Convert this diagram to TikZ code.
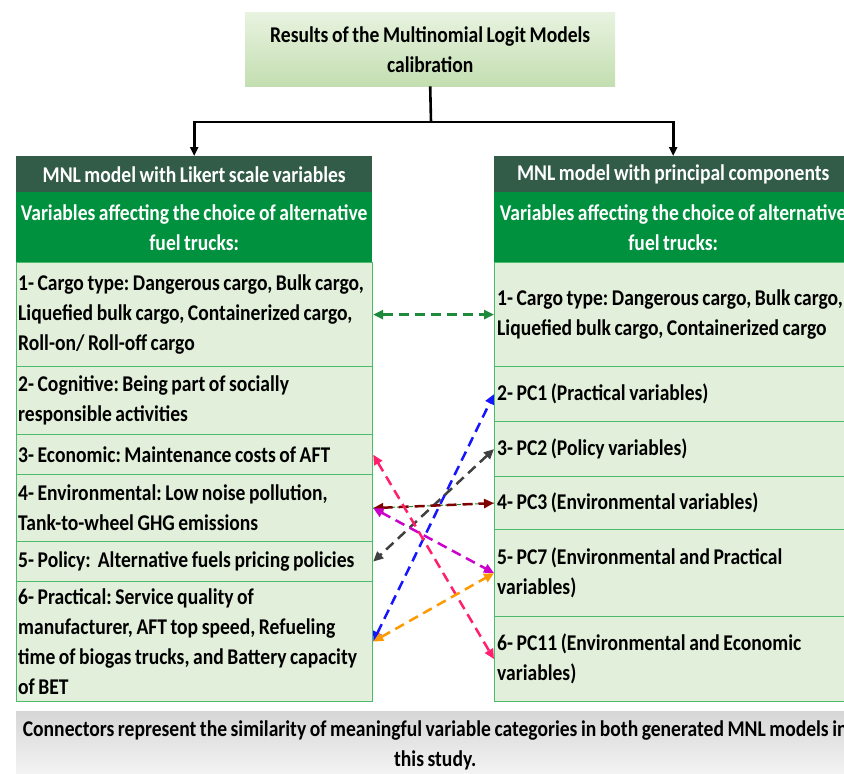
\documentclass[tikz,border=0pt]{standalone}
\usepackage{fontspec}
\setmainfont{Carlito}[FakeStretch=0.87, WordSpace=0.8]
\usetikzlibrary{arrows.meta,calc}
\definecolor{rowfill}{HTML}{E2EFDA}
\definecolor{rowline}{HTML}{4CBB6C}
\definecolor{darkhead}{HTML}{325C47}
\definecolor{greenhead}{HTML}{00913F}
\definecolor{topA}{HTML}{E8F3E0}
\definecolor{topB}{HTML}{C3DEB0}
\definecolor{capA}{HTML}{D6D6D6}
\definecolor{capB}{HTML}{F6F6F6}
\definecolor{cgreen}{HTML}{1E8A3C}
\definecolor{cblue}{HTML}{1515FF}
\definecolor{cgray}{HTML}{404040}
\definecolor{cred}{HTML}{800000}
\definecolor{cmag}{HTML}{CC00CC}
\definecolor{cpink}{HTML}{FF1F6E}
\definecolor{corange}{HTML}{FF9900}
\tikzset{
  txt/.style={font=\fontsize{22.5}{30}\selectfont\bfseries},
  rowbox/.style={draw=rowline, line width=1.2pt, fill=rowfill, anchor=north west,
    inner sep=0pt},
  lrow/.style={rowbox, minimum width=356pt},
  rrow/.style={rowbox, minimum width=358pt},
  rowtext/.style={txt, anchor=west, align=left, inner sep=0pt, text=black},
  dhead/.style={txt, fill=darkhead, text=white, anchor=north west, align=center,
    inner sep=0pt, minimum height=36pt},
  ghead/.style={txt, fill=greenhead, text=white, anchor=north west, align=center,
    inner sep=0pt, minimum height=70pt},
  blk/.style={line width=2.6pt, draw=black},
  blkarrow/.style={blk, -{Triangle[length=9pt,width=8pt]}},
  conn/.style={line width=2.5pt, dash pattern=on 10pt off 6pt,
    {Triangle[length=10pt,width=9pt]}-{Triangle[length=10pt,width=9pt]}},
}
\begin{document}
\frenchspacing
\begin{tikzpicture}[x=1pt,y=-1pt]
\path[use as bounding box, clip] (0,0) rectangle (844,774);
\fill[white] (0,0) rectangle (844,774);

% top box
\node[txt, top color=topA, bottom color=topB, minimum width=370pt, minimum height=74pt,
  align=center, inner sep=0pt, anchor=north west] (top) at (245,12)
  {Results of the Multinomial Logit Models\\calibration};

% left column
\node[dhead, minimum width=356pt] (LH) at (16,156) {MNL model with Likert scale variables};
\node[ghead, minimum width=356pt] (LG) at (16,192) {Variables affecting the choice of alternative\\fuel trucks:};
\node[lrow, minimum height=104pt] (L1) at (16,262) {};
\node[lrow, minimum height=68pt] (L2) at (16,366) {};
\node[lrow, minimum height=40pt] (L3) at (16,434) {};
\node[lrow, minimum height=67pt] (L4) at (16,474) {};
\node[lrow, minimum height=40pt] (L5) at (16,541) {};
\node[lrow, minimum height=120pt] (L6) at (16,581) {};
\node[rowtext] (L1t) at ([xshift=2pt]L1.west) {1- Cargo type: Dangerous cargo, Bulk cargo,\\Liquefied bulk cargo, Containerized cargo,\\Roll-on/ Roll-off cargo};
\node[rowtext] (L2t) at ([xshift=2pt]L2.west) {2- Cognitive: Being part of socially\\responsible activities};
\node[rowtext] (L3t) at ([xshift=2pt]L3.west) {3- Economic: Maintenance costs of AFT};
\node[rowtext] (L4t) at ([xshift=2pt]L4.west) {4- Environmental: Low noise pollution,\\Tank-to-wheel GHG emissions};
\node[rowtext] (L5t) at ([xshift=2pt]L5.west) {5- Policy:\ \ Alternative fuels pricing policies};
\node[rowtext] (L6t) at ([xshift=2pt]L6.west) {6- Practical: Service quality of\\manufacturer, AFT top speed, Refueling\\time of biogas trucks, and Battery capacity\\of BET};

% right column
\node[dhead, minimum width=358pt] (RH) at (494,156) {MNL model with principal components};
\node[ghead, minimum width=358pt] (RG) at (494,192) {Variables affecting the choice of alternative\\fuel trucks:};
\node[rrow, minimum height=104pt] (R1) at (494,262) {};
\node[rrow, minimum height=55pt] (R2) at (494,366) {};
\node[rrow, minimum height=55pt] (R3) at (494,421) {};
\node[rrow, minimum height=53pt] (R4) at (494,476) {};
\node[rrow, minimum height=87pt] (R5) at (494,529) {};
\node[rrow, minimum height=85pt] (R6) at (494,616) {};
\node[rowtext] (R1t) at ([xshift=3pt]R1.west) {1- Cargo type: Dangerous cargo, Bulk cargo,\\Liquefied bulk cargo, Containerized cargo};
\node[rowtext] (R2t) at ([xshift=3pt]R2.west) {2- PC1 (Practical variables)};
\node[rowtext] (R3t) at ([xshift=3pt]R3.west) {3- PC2 (Policy variables)};
\node[rowtext] (R4t) at ([xshift=3pt]R4.west) {4- PC3 (Environmental variables)};
\node[rowtext] (R5t) at ([xshift=3pt]R5.west) {5- PC7 (Environmental and Practical\\variables)};
\node[rowtext] (R6t) at ([xshift=3pt]R6.west) {6- PC11 (Environmental and Economic\\variables)};

% caption
\node[txt, top color=capA, bottom color=capB, minimum width=838pt, minimum height=68pt,
  align=center, inner sep=0pt, anchor=north west] (cap) at (16,711)
  {Connectors represent the similarity of meaningful variable categories in both generated MNL models in\\this study.};

% black tree connectors
\coordinate (j) at (431,122);
\draw[blk] (top.south) -- (j);
\draw[blkarrow] (j) -| (LH.north);
\draw[blkarrow] (j) -| (RH.north);

% dashed similarity connectors
\draw[conn, cgreen] (L1.east) -- (R1.west);
\draw[conn, cblue] (L6.east) -- (R2.west);
\draw[conn, cgray] (R3.west) -- (L5.east);
\draw[line width=1pt, cgreen, dash pattern=on 4pt off 2pt] (L4.east) -- (R4.west);
\draw[conn, cred] (L4.east) -- (R4.west);
\draw[conn, cmag] (L4.east) -- (R5.west);
\draw[conn, cpink] (L3.east) -- (R6.west);
\draw[conn, corange] (L6.east) -- (R5.west);
\end{tikzpicture}
\end{document}
